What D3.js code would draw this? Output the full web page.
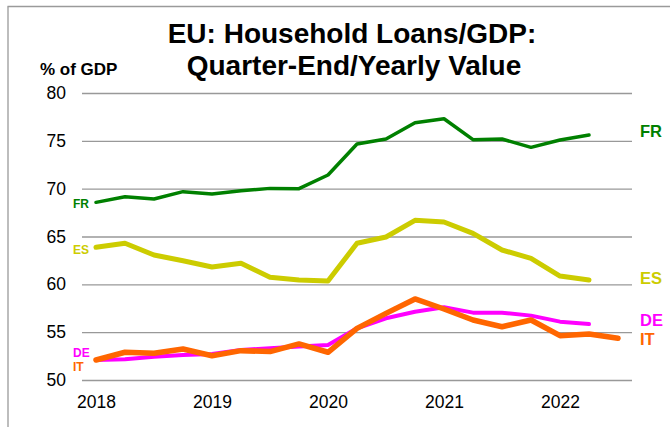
<!DOCTYPE html>
<html><head><meta charset="utf-8">
<script src="https://cdn.jsdelivr.net/npm/d3@7"></script>
<style>body{margin:0;background:#fff}svg{display:block;font-family:Arial,"Liberation Sans",sans-serif}</style>
</head><body><svg id="c" width="670" height="427"></svg>
<script>
const startYear = 2018;
const quarters = d3.range(19).map(i => startYear + i * 0.25);
const frValues = [68.57,69.16,68.92,69.69,69.44,69.79,70.03,70.0,71.43,74.67,75.19,76.9,77.31,75.12,75.19,74.32,75.09,75.6];
const esValues = [63.87,64.29,63.07,62.47,61.81,62.2,60.73,60.45,60.35,64.29,64.95,66.69,66.52,65.33,63.59,62.72,60.87,60.45];
const deValues = [52.09,52.16,52.44,52.61,52.72,53.14,53.31,53.49,53.66,55.4,56.45,57.14,57.6,57.04,57.04,56.73,56.1,55.85];
const itValues = [52.09,52.9,52.79,53.24,52.54,53.07,52.97,53.77,52.9,55.4,56.97,58.47,57.42,56.27,55.57,56.27,54.63,54.81,54.36];
const yTicks = [50,55,60,65,70,75,80];
const xTicks = [2018,2019,2020,2021,2022];

const series = [
  {name:"FR", values:frValues, color:"#008000", width:3.5},
  {name:"ES", values:esValues, color:"#cccc00", width:5},
  {name:"DE", values:deValues, color:"#ff00ff", width:4},
  {name:"IT", values:itValues, color:"#ff6600", width:5.5}
];

const svg = d3.select("#c");
const x = d3.scaleLinear().domain([2018, 2022]).range([96, 560]);
const y = d3.scaleLinear().domain([50, 80]).range([380, 93]);
const xLeft = 82, xRight = 632;

// frame
svg.append("line").attr("x1",7.5).attr("x2",670).attr("y1",6.5).attr("y2",6.5).attr("stroke","#9a9a9a").attr("stroke-width",1.3);
svg.append("line").attr("x1",8).attr("x2",8).attr("y1",6.5).attr("y2",427).attr("stroke","#9a9a9a").attr("stroke-width",1.3);

// gridlines + y axis
const yAxis = d3.axisLeft(y).tickValues(yTicks).tickSize(-(xRight - xLeft)).tickPadding(16).tickFormat(d3.format("d"));
const gy = svg.append("g").attr("transform", `translate(${xLeft},0)`).call(yAxis);
gy.select(".domain").remove();
gy.selectAll(".tick line").attr("stroke","#999").attr("stroke-width",1.3);
gy.selectAll(".tick text").attr("font-size",17.5).attr("fill","#000").attr("x",-16).attr("font-family","Arial,'Liberation Sans',sans-serif");

// x axis
const xAxis = d3.axisBottom(x).tickValues(xTicks).tickSize(0).tickPadding(16).tickFormat(d3.format("d"));
const gx = svg.append("g").attr("transform", `translate(0,${380})`).call(xAxis);
gx.select(".domain").remove();
gx.selectAll(".tick text").attr("font-size",17.5).attr("fill","#000").attr("font-family","Arial,'Liberation Sans',sans-serif");

// lines
const line = d3.line().x((d,i) => x(quarters[i])).y(d => y(d));
series.forEach(s => {
  svg.append("path").datum(s.values).attr("d", line).attr("fill","none")
    .attr("stroke", s.color).attr("stroke-width", s.width).attr("stroke-linejoin","round").attr("stroke-linecap","round");
});

// right labels
const rightLabelY = {FR:131.5, ES:278, DE:320, IT:339.5};
series.forEach(s => {
  svg.append("text").attr("x",640).attr("y",rightLabelY[s.name]).attr("dy","0.35em")
    .attr("font-size",16.5).attr("font-weight","bold").attr("fill",s.color).text(s.name);
});
// left labels
const leftLabelY = {FR:204, ES:250, DE:353, IT:367};
series.forEach(s => {
  svg.append("text").attr("x",73).attr("y",leftLabelY[s.name]).attr("dy","0.35em")
    .attr("font-size",12).attr("font-weight","bold").attr("fill",s.color).text(s.name);
});

// titles
svg.append("text").attr("x",352).attr("y",43).attr("text-anchor","middle").attr("font-size",28).attr("font-weight","bold").text("EU: Household Loans/GDP:");
svg.append("text").attr("x",354).attr("y",75).attr("text-anchor","middle").attr("font-size",28).attr("font-weight","bold").text("Quarter-End/Yearly Value");
svg.append("text").attr("x",40).attr("y",75).attr("font-size",17).attr("font-weight","bold").text("% of GDP");
</script></body></html>
